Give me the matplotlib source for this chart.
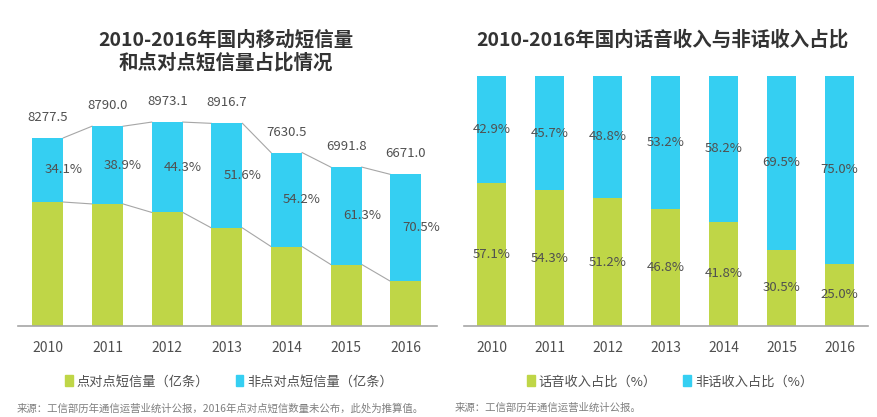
import numpy as np
import matplotlib
matplotlib.use("Agg")
import matplotlib.pyplot as plt
from matplotlib.patches import Patch

plt.rcParams['font.family'] = ['Noto Sans CJK SC', 'DejaVu Sans']

years = ['2010', '2011', '2012', '2013', '2014', '2015', '2016']
# left chart: total SMS volume (亿条) and non-p2p share
sms_total = [8277.5, 8790.0, 8973.1, 8916.7, 7630.5, 6991.8, 6671.0]
non_p2p_pct = [34.1, 38.9, 44.3, 51.6, 54.2, 61.3, 70.5]
# right chart: voice / non-voice revenue share
voice_pct = [57.1, 54.3, 51.2, 46.8, 41.8, 30.5, 25.0]
nonvoice_pct = [42.9, 45.7, 48.8, 53.2, 58.2, 69.5, 75.0]

green = '#BFD647'
blue = '#35CFF2'
txt = '#505050'
gray = '#A6A6A6'

fig = plt.figure(figsize=(8.78, 4.17), dpi=100)
W, H = 878, 417

def axes_px(x0, x1, ytop, ybot):
    return fig.add_axes([x0 / W, 1 - ybot / H, (x1 - x0) / W, (ybot - ytop) / H])

# ---------- left chart ----------
ax1 = axes_px(18, 437, 76, 326)
x = np.arange(len(years))
bw = 0.52
total = np.array(sms_total)
p2p = total * (1 - np.array(non_p2p_pct) / 100)
non_p2p = total - p2p
ax1.bar(x, p2p, bw, color=green, zorder=2)
ax1.bar(x, non_p2p, bw, bottom=p2p, color=blue, zorder=2)
ax1.set_xlim(-0.5, 6.52)
ax1.set_ylim(0, 11000)

# connecting lines between bars
for i in range(len(years) - 1):
    for vals in (total, p2p):
        ax1.plot([x[i] + bw / 2, x[i + 1] - bw / 2], [vals[i], vals[i + 1]],
                 color=gray, lw=0.8, zorder=1)

for i in range(len(years)):
    ax1.annotate(f'{total[i]:.1f}', (x[i], total[i]), xytext=(0, 10),
                 textcoords='offset points', ha='center', va='bottom',
                 fontsize=9.5, color=txt)
    ax1.text(x[i] + bw / 2, p2p[i] + non_p2p[i] / 2, f'{non_p2p_pct[i]}%',
             ha='center', va='center', fontsize=9.5, color=txt, zorder=3)

# ---------- right chart ----------
ax2 = axes_px(464, 868, 76, 326)
bw2 = 0.5
ax2.bar(x, voice_pct, bw2, color=green)
ax2.bar(x, nonvoice_pct, bw2, bottom=voice_pct, color=blue)
ax2.set_xlim(-0.48, 6.49)
ax2.set_ylim(0, 100)
for i in range(len(years)):
    ax2.text(x[i], voice_pct[i] / 2, f'{voice_pct[i]}%', ha='center',
             va='center', fontsize=9.5, color=txt)
    ax2.text(x[i], voice_pct[i] + nonvoice_pct[i] / 2, f'{nonvoice_pct[i]}%',
             ha='center', va='center', fontsize=9.5, color=txt)

for ax in (ax1, ax2):
    for s in ('top', 'right', 'left'):
        ax.spines[s].set_visible(False)
    ax.spines['bottom'].set_color(gray)
    ax.spines['bottom'].set_linewidth(1.2)
    ax.set_yticks([])
    ax.set_xticks(x)
    ax.set_xticklabels(years, fontsize=10, color=txt)
    ax.tick_params(axis='x', length=0, pad=11)

# titles
fig.text(226 / W, 1 - 40 / H, '2010-2016年国内移动短信量', ha='center', va='center',
         fontsize=14, fontweight='bold', color='#333333')
fig.text(226 / W, 1 - 63 / H, '和点对点短信量占比情况', ha='center', va='center',
         fontsize=14, fontweight='bold', color='#333333')
fig.text(662 / W, 1 - 40 / H, '2010-2016年国内话音收入与非话收入占比', ha='center',
         va='center', fontsize=14, fontweight='bold', color='#333333')

# legends
def legend_at(labels, cx):
    handles = [Patch(color=green), Patch(color=blue)]
    fig.legend(handles, labels, loc='center', bbox_to_anchor=(cx / W, 1 - 382 / H),
               ncol=2, frameon=False, fontsize=9.5, handlelength=0.6,
               handleheight=0.9, handletextpad=0.3, columnspacing=2.0,
               labelcolor=txt)

legend_at(['点对点短信量（亿条）', '非点对点短信量（亿条）'], 229)
legend_at(['话音收入占比（%）', '非话收入占比（%）'], 670)

# sources
fig.text(17 / W, 1 - 408 / H, '来源：工信部历年通信运营业统计公报，2016年点对点短信数量未公布，此处为推算值。',
         ha='left', va='center', fontsize=7.5, color='#7F7F7F')
fig.text(455 / W, 1 - 408 / H, '来源：工信部历年通信运营业统计公报。',
         ha='left', va='center', fontsize=7.5, color='#7F7F7F')

fig.savefig('out.png', dpi=100)
